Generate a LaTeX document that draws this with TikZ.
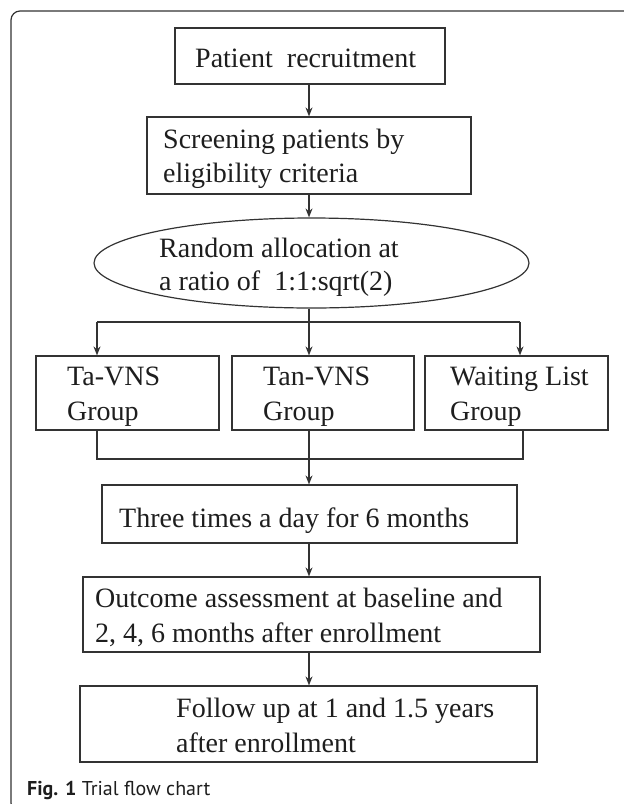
\documentclass[tikz,border=0pt]{standalone}
\usepackage{fontspec}
\setmainfont{Liberation Serif}
\newfontfamily\capfont{PT Sans}
\usetikzlibrary{arrows.meta,shapes.geometric}
\definecolor{ln}{HTML}{333333}
\definecolor{tx}{HTML}{1E1E1E}
\tikzset{
  box/.style={draw=ln, line width=1.2pt, rectangle, inner sep=0pt},
  oval/.style={draw=ln, line width=1.2pt, ellipse, inner sep=0pt},
  txt/.style={anchor=base west, inner sep=0pt, text=tx, font=\fontsize{28}{34}\selectfont},
  conn/.style={draw=ln, line width=1.2pt},
  arr/.style={conn, -{Stealth[length=9pt,width=7pt]}},
}
\begin{document}
\begin{tikzpicture}[x=1pt,y=-1pt]
\useasboundingbox (0,0) rectangle (624,804);
\clip (0,0) rectangle (624,804);
\fill[white] (0,0) rectangle (624,804);
% outer frame
\draw[ln, line width=1.2pt, rounded corners=9pt] (11,11) rectangle (650,812);

\coordinate (spine) at (309,0);

% boxes
\node[box, minimum width=270pt, minimum height=56pt] (recruit) at (310,56) {};
\node[box, minimum width=324pt, minimum height=77pt] (screen) at (309,155.5) {};
\node[oval, minimum width=435pt, minimum height=90pt] (alloc) at (311.5,263) {};
\node[box, minimum width=183pt, minimum height=74pt] (ta) at (127.5,393) {};
\node[box, minimum width=182pt, minimum height=74pt] (tan) at (323,393) {};
\node[box, minimum width=183pt, minimum height=74pt] (wl) at (516.5,393) {};
\node[box, minimum width=415pt, minimum height=58pt] (three) at (309.5,514) {};
\node[box, minimum width=457pt, minimum height=75pt] (outcome) at (311.5,614.5) {};
\node[box, minimum width=457pt, minimum height=76pt] (follow) at (308.5,724) {};

% texts
\node[txt] (recruitT) at (195,67) {Patient~~recruitment};
\node[txt] (screenT1) at (163,148) {Screening patients by};
\node[txt] (screenT2) at (163,182) {eligibility criteria};
\node[txt] (allocT1) at (159,257) {Random allocation at};
\node[txt] (allocT2) at (159,290) {a ratio of~~1:1:sqrt(2)};
\node[txt] (taT1) at (67,385) {Ta-VNS};
\node[txt] (taT2) at (67,420) {Group};
\node[txt] (tanT1) at (263,385) {Tan-VNS};
\node[txt] (tanT2) at (263,420) {Group};
\node[txt] (wlT1) at (450,385) {Waiting List};
\node[txt] (wlT2) at (450,420) {Group};
\node[txt] (threeT) at (119,527) {Three times a day for 6 months};
\node[txt] (outcomeT1) at (95,607) {Outcome assessment at baseline and};
\node[txt] (outcomeT2) at (95,642) {2, 4, 6 months after enrollment};
\node[txt] (followT1) at (176,717) {Follow up at 1 and 1.5 years};
\node[txt] (followT2) at (176,752) {after enrollment};

% connectors
\draw[arr] (recruit.south -| spine) -- (screen.north -| spine);
\draw[arr] (screen.south -| spine) -- (alloc.north -| spine);

\coordinate (splitC) at (309,322);
\coordinate (splitL) at (97,322);
\coordinate (splitR) at (520,322);
\draw[conn] (alloc.south -| spine) -- (splitC);
\draw[conn] (splitL) -- (splitR);
\draw[arr] (splitL) -- (splitL |- ta.north);
\draw[arr] (splitC) -- (splitC |- tan.north);
\draw[arr] (splitR) -- (splitR |- wl.north);

\coordinate (joinL) at (97,459);
\coordinate (joinR) at (523,459);
\draw[conn] (joinL |- ta.south) -- (joinL) -- (joinR) -- (joinR |- wl.south);
\draw[arr] (tan.south -| spine) -- (three.north -| spine);

\draw[arr] (three.south -| spine) -- (outcome.north -| spine);
\draw[arr] (outcome.south -| spine) -- (follow.north -| spine);

% caption
\node[anchor=base west, inner sep=0pt, text=tx, font=\capfont\fontsize{20}{24}\selectfont] (caption) at (27,795) {\textbf{Fig. 1} Trial flow chart};
\end{tikzpicture}
\end{document}
